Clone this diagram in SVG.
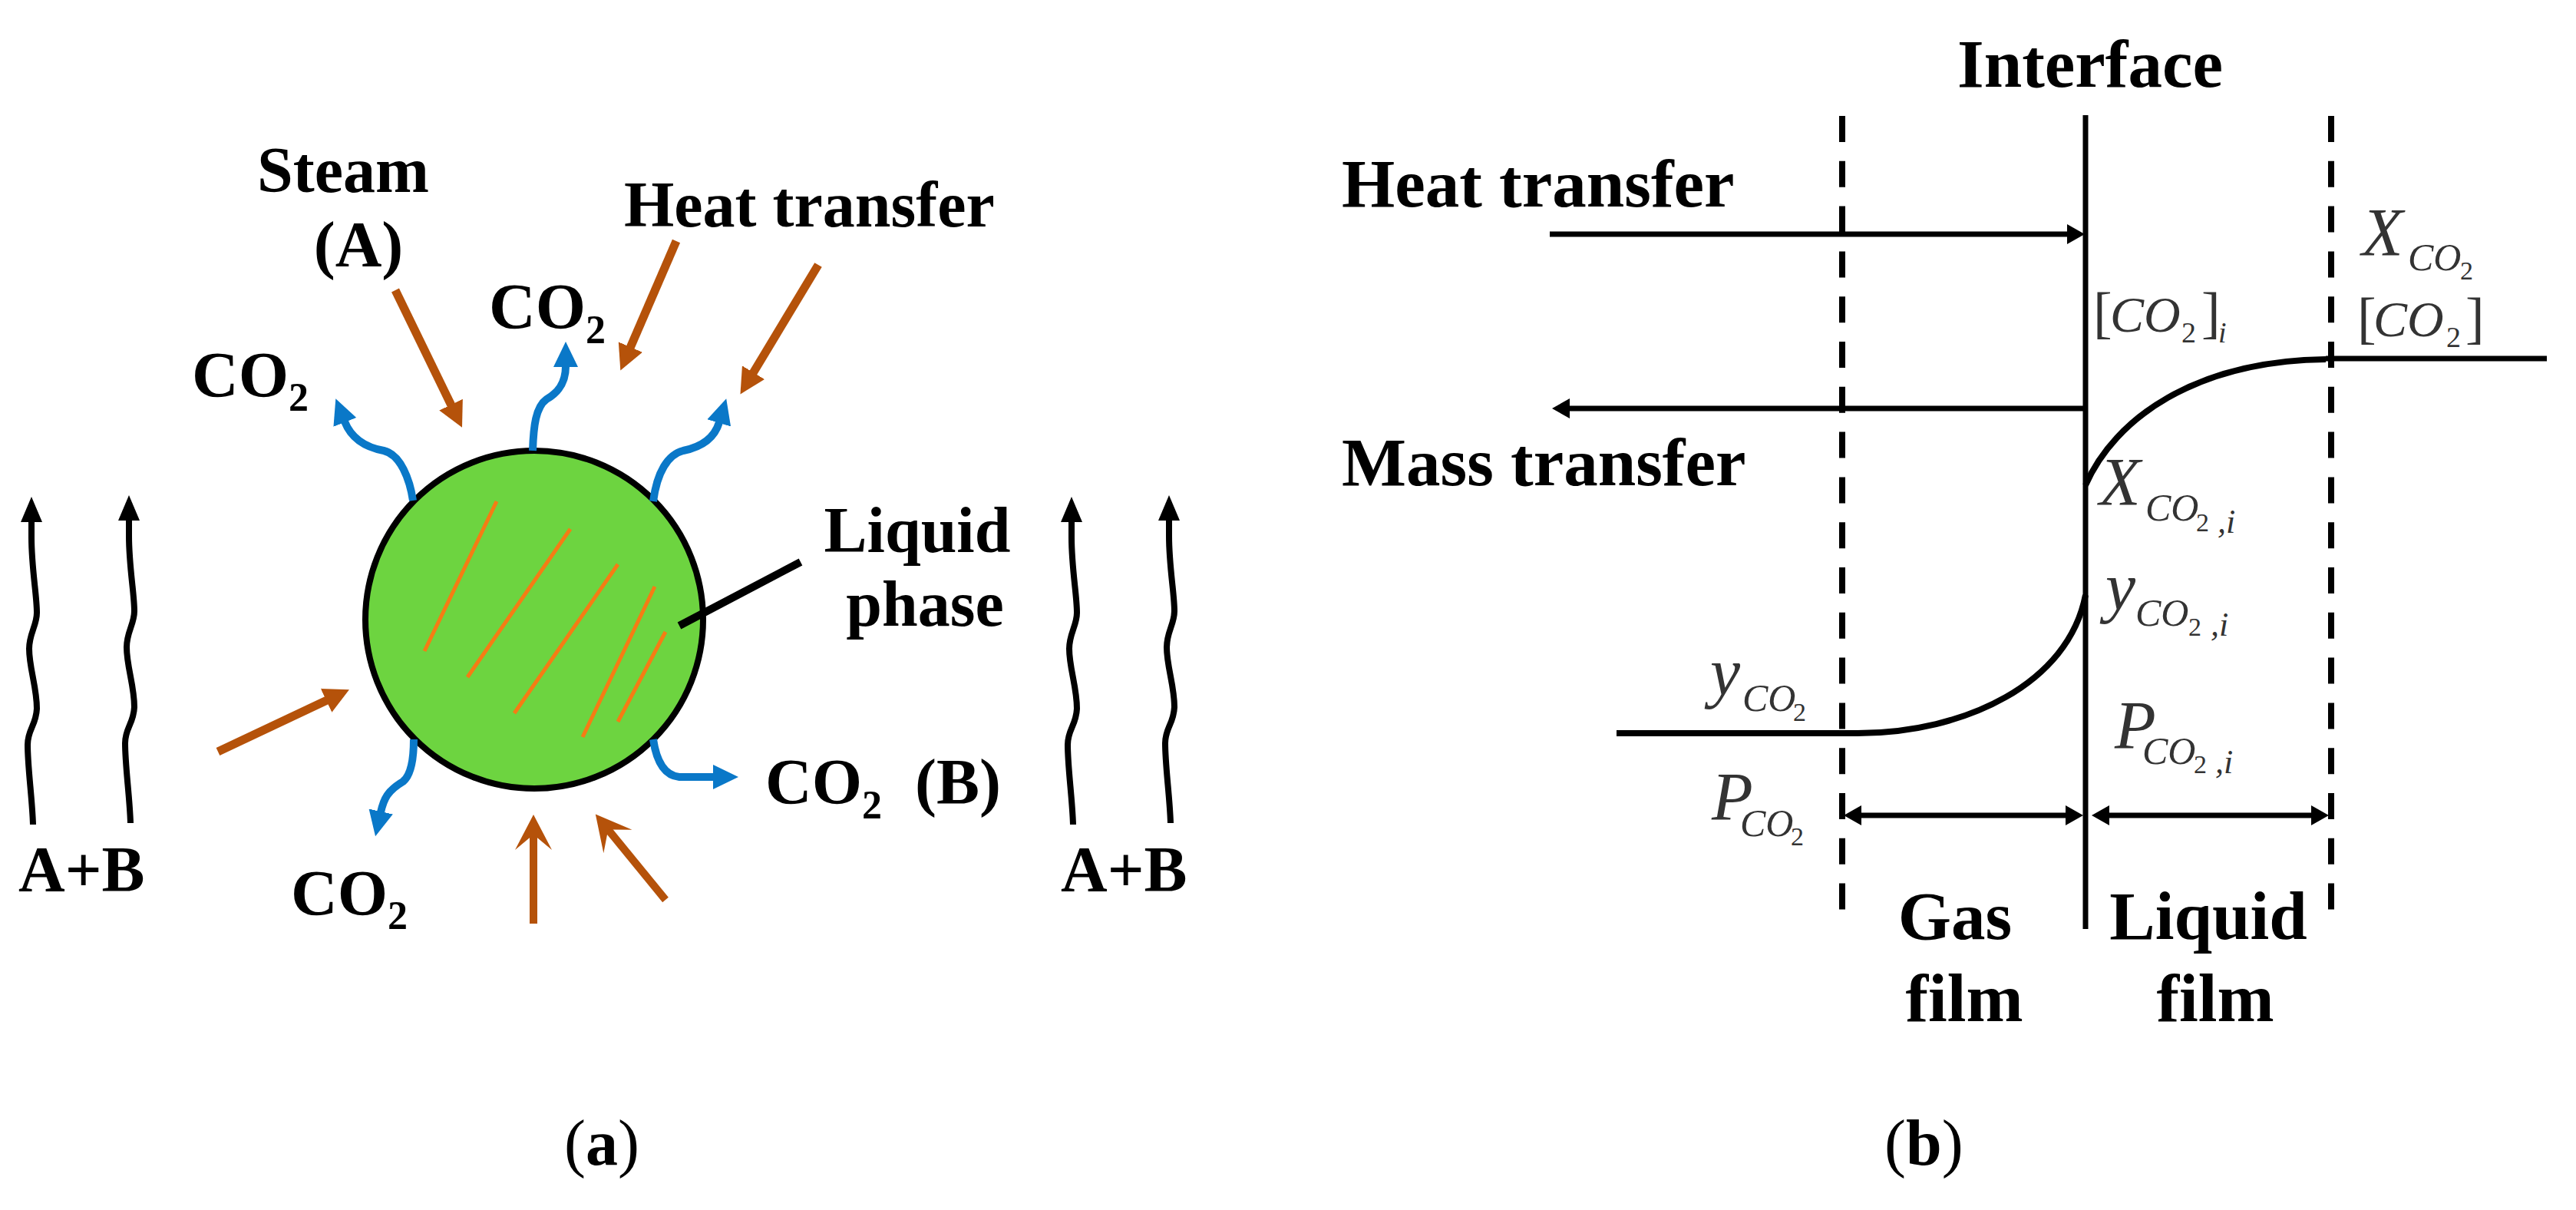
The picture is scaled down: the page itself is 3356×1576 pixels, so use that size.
<svg xmlns="http://www.w3.org/2000/svg" xmlns:xlink="http://www.w3.org/1999/xlink" width="3356" height="1576" viewBox="0 0 3356 1576">
<style>
text{font-family:"Liberation Serif","Times New Roman",serif;fill:#000}
.b{font-weight:bold;font-size:84px}
.bl{font-weight:bold;font-size:89px}
.cap{font-size:84px}
.cap .bb{font-weight:bold}
.s{font-size:52px}
.m{fill:#333}
.i{font-style:italic}
.m88{font-size:88px}.m66{font-size:66px}.m74{font-size:74px}.m50{font-size:50px}.m34{font-size:34px}.m38{font-size:38px}.m44{font-size:44px}
.anchor{text-anchor:middle}
.blue{fill:none;stroke:#0a78c8;stroke-width:10;marker-end:url(#mBlue)}
.brown{fill:none;stroke:#b5520a;stroke-width:11;marker-end:url(#mBrown)}
.brownO{fill:none;stroke:#b5520a;stroke-width:10;marker-end:url(#mBrownOpen)}
.wave{fill:none;stroke:#000;stroke-width:8;marker-end:url(#mWave)}
.orange{fill:none;stroke:#f57c14;stroke-width:5}
.k{fill:none;stroke:#000;stroke-width:7}
.kb{fill:none;stroke:#000;stroke-width:8}
.dash{fill:none;stroke:#000;stroke-width:8;stroke-dasharray:34 24.8}
.ar{fill:none;stroke:#000;stroke-width:7;marker-end:url(#mK)}
.ar2{fill:none;stroke:#000;stroke-width:7;marker-end:url(#mK);marker-start:url(#mKs)}
</style>
<defs>
<marker id="mBlue" markerUnits="userSpaceOnUse" markerWidth="40" markerHeight="40" refX="1" refY="20" orient="auto" viewBox="0 0 40 40"><path d="M0,4 L33,20 L0,36 z" fill="#0a78c8"/></marker>
<marker id="mBrown" markerUnits="userSpaceOnUse" markerWidth="40" markerHeight="40" refX="1" refY="20" orient="auto" viewBox="0 0 40 40"><path d="M0,3 L33,20 L0,37 z" fill="#b5520a"/></marker>
<marker id="mBrownOpen" markerUnits="userSpaceOnUse" markerWidth="60" markerHeight="60" refX="22" refY="30" orient="auto" viewBox="0 0 60 60"><path d="M0,6 L46,30 L0,54 L20,30 z" fill="#b5520a"/></marker>
<marker id="mWave" markerUnits="userSpaceOnUse" markerWidth="40" markerHeight="40" refX="1" refY="20" orient="auto" viewBox="0 0 40 40"><path d="M0,6 L33,20 L0,34 z" fill="#000"/></marker>
<marker id="mK" markerUnits="userSpaceOnUse" markerWidth="30" markerHeight="30" refX="1" refY="15" orient="auto" viewBox="0 0 30 30"><path d="M0,2 L23,15 L0,28 z" fill="#000"/></marker>
<marker id="mKs" markerUnits="userSpaceOnUse" markerWidth="30" markerHeight="30" refX="1" refY="15" orient="auto-start-reverse" viewBox="0 0 30 30"><path d="M0,2 L23,15 L0,28 z" fill="#000"/></marker>
<path id="wv" d="M43,1074 C42,1040 36,1000 36,970 C36,950 47,945 48,923 C48,895 38,870 38,845 C38,825 48,815 48,798 C48,775 41,740 41,700 L41,679"/>
</defs>
<rect width="3356" height="1576" fill="#fff"/>

<g id="droplet">
<circle cx="696" cy="807" r="220" fill="#6dd440" stroke="#000" stroke-width="8"/>
<path class="orange" d="M647,653 L553,848 M743,689 L609,882 M805,735 L670,929 M853,764 L759,960 M867,823 L805,940"/>
</g>

<g id="connectors">
<g id="co2-flows">
<path class="blue" d="M538,652 C534,625 522,592 500,587 C478,583 458,572 449,549"/>
<path class="blue" d="M694,587 C695,555 698,530 712,520 C726,512 737,500 737,477"/>
<path class="blue" d="M851,653 C856,615 870,592 890,587 C915,582 931,570 937,550"/>
<path class="blue" d="M539,963 C539,990 535,1010 525,1018 C505,1030 500,1040 496,1058"/>
<path class="blue" d="M851,963 C855,990 865,1010 885,1012 L930,1012"/>
</g>
<g id="heat-flows">
<path class="brown" d="M515,378 L588,528"/>
<path class="brown" d="M881,314 L821,453"/>
<path class="brown" d="M1066,345 L981,486"/>
<path class="brown" d="M284,979 L426,912"/>
<path class="brownO" d="M695,1203 L695,1085"/>
<path class="brownO" d="M867,1172 L791,1079"/>
</g>
<g id="gas-flows">
<use xlink:href="#wv" href="#wv" class="wave"/>
<use xlink:href="#wv" href="#wv" class="wave" transform="translate(127,-2)"/>
<use xlink:href="#wv" href="#wv" class="wave" transform="translate(1355,0)"/>
<use xlink:href="#wv" href="#wv" class="wave" transform="translate(1482,-2)"/>
</g>
<path id="leader" d="M885,815 L1043,732" fill="none" stroke="#000" stroke-width="10"/>
<g id="film-lines">
<path class="dash" d="M2400,151 V1186"/>
<path class="dash" d="M3037,151 V1186"/>
<path class="k" d="M2717,150 V1210"/>
<path class="ar" d="M2019,305 H2694"/>
<path class="ar" d="M2717,532 H2044"/>
<path class="kb" d="M2717,632 C2755,545 2860,470 3030,468"/>
<path class="k" d="M3030,467 H3318"/>
<path class="kb" d="M2106,955 H2420 C2560,955 2695,890 2717,775"/>
<path class="ar2" d="M2424,1062 H2692"/>
<path class="ar2" d="M2747,1062 H3012"/>
</g>
</g>

<g id="labels-a">
<text id="steam" class="b anchor" x="447" y="250">Steam</text>
<text id="steam-a" class="b anchor" x="467" y="347">(A)</text>
<text id="heat-a" class="b" x="813" y="295">Heat transfer</text>
<text id="co2-1" class="b" x="250" y="517">CO<tspan class="s" dy="18">2</tspan></text>
<text id="co2-2" class="b" x="637" y="428">CO<tspan class="s" dy="19">2</tspan></text>
<text id="co2-3" class="b" x="379" y="1192">CO<tspan class="s" dy="18">2</tspan></text>
<text id="co2-b" class="b" x="997" y="1047">CO<tspan class="s" dy="19">2</tspan><tspan x="1192" y="1047">(B)</tspan></text>
<text id="ab-l" class="b" x="24" y="1161">A+B</text>
<text id="ab-r" class="b" x="1382" y="1161">A+B</text>
<text id="liquid-phase" class="b anchor"><tspan x="1195" y="719">Liquid</tspan><tspan x="1205" y="815">phase</tspan></text>
<text id="cap-a" class="cap" x="735" y="1517">(<tspan class="bb">a</tspan>)</text>
</g>

<g id="labels-b">
<text id="interface" class="bl" x="2550" y="113">Interface</text>
<text id="heat-b" class="bl" x="1748" y="269">Heat transfer</text>
<text id="mass-b" class="bl" x="1748" y="632">Mass transfer</text>
<text id="gas" class="bl anchor" x="2547" y="1223">Gas</text>
<text id="gas-film" class="bl anchor" x="2559" y="1330">film</text>
<text id="liquid" class="bl anchor" x="2877" y="1223">Liquid</text>
<text id="liquid-film" class="bl anchor" x="2886" y="1330">film</text>
<text id="cap-b" class="cap" x="2455" y="1517">(<tspan class="bb">b</tspan>)</text>

<text id="x-co2" class="m"><tspan class="i m88" x="3077" y="332">X</tspan><tspan class="i m50" x="3137" y="352">CO</tspan><tspan class="m34" x="3205" y="364">2</tspan></text>
<text id="c-co2" class="m"><tspan class="m74" x="3071" y="439">[</tspan><tspan class="i m66" x="3092" y="438">CO</tspan><tspan class="m38" x="3187" y="452">2</tspan><tspan class="m74" x="3212" y="439">]</tspan></text>
<text id="c-co2-i" class="m"><tspan class="m74" x="2727" y="432">[</tspan><tspan class="i m66" x="2749" y="432">CO</tspan><tspan class="m38" x="2842" y="446">2</tspan><tspan class="m74" x="2868" y="432">]</tspan><tspan class="i m38" x="2890" y="446">i</tspan></text>
<text id="x-co2-i" class="m"><tspan class="i m88" x="2735" y="657">X</tspan><tspan class="i m50" x="2795" y="678">CO</tspan><tspan class="m34" x="2861" y="692">2</tspan><tspan class="i m44" x="2889" y="694">,i</tspan></text>
<text id="y-co2-i" class="m"><tspan class="i m88" x="2743" y="794">y</tspan><tspan class="i m50" x="2782" y="815">CO</tspan><tspan class="m34" x="2851" y="828">2</tspan><tspan class="i m44" x="2880" y="828">,i</tspan></text>
<text id="y-co2" class="m"><tspan class="i m88" x="2228" y="905">y</tspan><tspan class="i m50" x="2270" y="926">CO</tspan><tspan class="m34" x="2336" y="939">2</tspan></text>
<text id="p-co2-i" class="m"><tspan class="i m88" x="2755" y="974">P</tspan><tspan class="i m50" x="2791" y="995">CO</tspan><tspan class="m34" x="2858" y="1007">2</tspan><tspan class="i m44" x="2886" y="1007">,i</tspan></text>
<text id="p-co2" class="m"><tspan class="i m88" x="2230" y="1067">P</tspan><tspan class="i m50" x="2267" y="1089">CO</tspan><tspan class="m34" x="2333" y="1101">2</tspan></text>
</g>
</svg>
